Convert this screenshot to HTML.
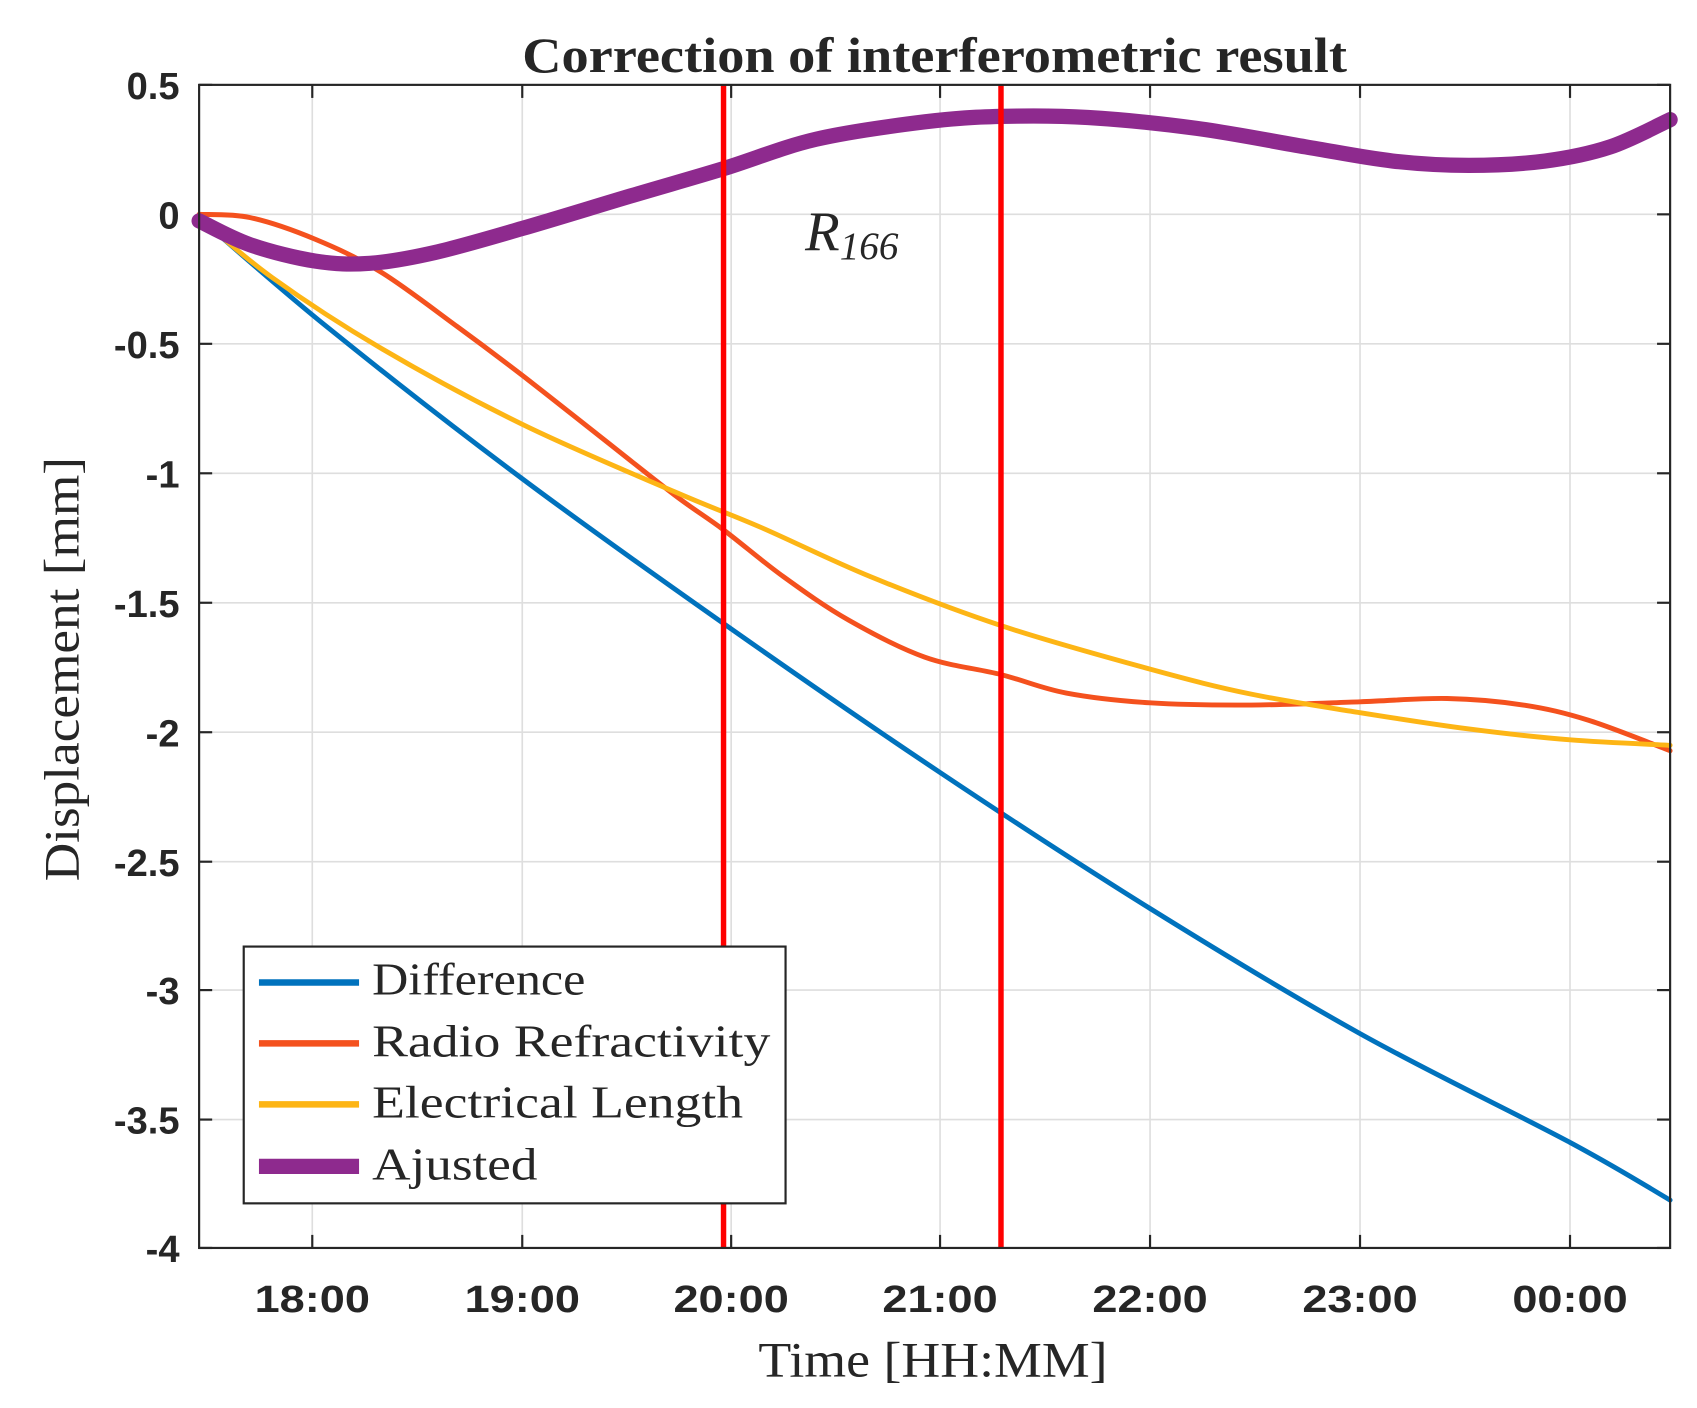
<!DOCTYPE html>
<html><head><meta charset="utf-8"><style>
html,body{margin:0;padding:0;background:#fff;}
svg{display:block;}
.tk{font-family:"Liberation Sans",sans-serif;font-weight:bold;font-size:35px;fill:#262626;}
.sr{font-family:"Liberation Serif",serif;fill:#262626;}
</style></head><body>
<svg id="s" width="1697" height="1408" viewBox="0 0 1559.7 1294.1" xmlns="http://www.w3.org/2000/svg">
<rect x="0" y="0" width="1560" height="1295" fill="#fff"/>
<g id="grid" stroke="#dedede" stroke-width="1.5"></g>
<g id="ticks" stroke="#262626" stroke-width="2"></g>
<g id="curves" fill="none" stroke-linejoin="round" stroke-linecap="round"></g>
<line x1="665" y1="78" x2="665" y2="1147" stroke="#ff0000" stroke-width="5"/>
<line x1="920" y1="78" x2="920" y2="1147" stroke="#ff0000" stroke-width="5"/>
<rect x="183" y="78" width="1352" height="1069" fill="none" stroke="#262626" stroke-width="2"/>
<text x="480" y="66" textLength="758" lengthAdjust="spacingAndGlyphs" class="sr" font-weight="bold" font-size="46">Correction of interferometric result</text>
<text x="740" y="230" class="sr" font-style="italic" font-size="52">R<tspan font-size="36" dy="8">166</tspan></text>
<g id="ylab" class="tk" text-anchor="end"></g>
<g id="xlab" class="tk"></g>
<text x="697" y="1265" textLength="321" lengthAdjust="spacingAndGlyphs" class="sr" font-size="46">Time [HH:MM]</text>
<text transform="translate(72,810) rotate(-90)" textLength="390" lengthAdjust="spacingAndGlyphs" class="sr" font-size="46">Displacement [mm]</text>
<rect x="224" y="870" width="498" height="236" fill="#fff" stroke="#262626" stroke-width="2"/>
<line x1="238" y1="903" x2="330" y2="903" stroke="#0072bd" stroke-width="6"/>
<line x1="238" y1="959" x2="330" y2="959" stroke="#f4511e" stroke-width="6"/>
<line x1="238" y1="1015" x2="330" y2="1015" stroke="#fdb515" stroke-width="6"/>
<line x1="238" y1="1072" x2="330" y2="1072" stroke="#8e2a8e" stroke-width="14"/>
<text x="342" y="914" textLength="196" lengthAdjust="spacingAndGlyphs" class="sr" font-size="42">Difference</text>
<text x="342" y="971" textLength="366" lengthAdjust="spacingAndGlyphs" class="sr" font-size="42">Radio Refractivity</text>
<text x="342" y="1027" textLength="341" lengthAdjust="spacingAndGlyphs" class="sr" font-size="42">Electrical Length</text>
<text x="342" y="1084" textLength="152" lengthAdjust="spacingAndGlyphs" class="sr" font-size="42">Ajusted</text>
</svg>
<script>
var NS="http://www.w3.org/2000/svg";
function el(p,t,a){var e=document.createElementNS(NS,t);for(var k in a)e.setAttribute(k,a[k]);document.getElementById(p).appendChild(e);return e;}
var ys=[78,197,316,435,554,673,792,910,1029,1147],yl=["0.5","0","-0.5","-1","-1.5","-2","-2.5","-3","-3.5","-4"];
ys.forEach(function(y,i){el("grid","line",{x1:183,x2:1535,y1:y,y2:y});el("ticks","line",{x1:183,x2:195,y1:y,y2:y});el("ticks","line",{x1:1523,x2:1535,y1:y,y2:y});
var t=el("ylab","text",{x:165,y:y+13});t.textContent=yl[i];});
var xs=[287,480,672,864,1057,1250,1443],xl=["18:00","19:00","20:00","21:00","22:00","23:00","00:00"];
xs.forEach(function(x,i){el("grid","line",{x1:x,x2:x,y1:78,y2:1147});el("ticks","line",{x1:x,x2:x,y1:78,y2:90});el("ticks","line",{x1:x,x2:x,y1:1135,y2:1147});
var t=el("xlab","text",{x:x-53,y:1206,textLength:106,lengthAdjust:"spacingAndGlyphs"});t.textContent=xl[i];});
function path(p){var d="M"+p[0][0]+","+p[0][1];for(var i=0;i<p.length-1;i++){var a=p[i-1]||p[i],b=p[i],c=p[i+1],e=p[i+2]||c;
d+=" C"+(b[0]+(c[0]-a[0])/6)+","+(b[1]+(c[1]-a[1])/6)+" "+(c[0]-(e[0]-b[0])/6)+","+(c[1]-(e[1]-b[1])/6)+" "+c[0]+","+c[1];}return d;}
var S=[
["#0072bd",4.5,[[183,200],[300,300],[480,440],[672,578],[864,710],[1057,835],[1250,950],[1443,1050],[1535,1103]]],
["#f4511e",4.5,[[183,197],[230,200],[290,220],[350,250],[420,300],[480,345],[550,400],[620,455],[665,487],[720,530],[780,570],[850,604],[920,620],[980,637],[1057,646],[1150,648],[1250,645],[1330,642],[1400,648],[1460,662],[1535,690]]],
["#fdb515",4.5,[[183,200],[250,255],[350,320],[480,390],[620,452],[700,485],[800,530],[920,575],[1057,615],[1150,638],[1250,655],[1350,670],[1443,680],[1535,685]]],
["#8e2a8e",14,[[183,203],[230,225],[290,240],[340,242],[400,232],[480,210],[580,180],[665,155],[750,128],[850,112],[920,107],[1000,108],[1100,118],[1200,135],[1280,148],[1350,152],[1420,148],[1480,135],[1535,110]]]];
S.forEach(function(s){el("curves","path",{d:path(s[2]),stroke:s[0],"stroke-width":s[1]});});
</script>
</body></html>
